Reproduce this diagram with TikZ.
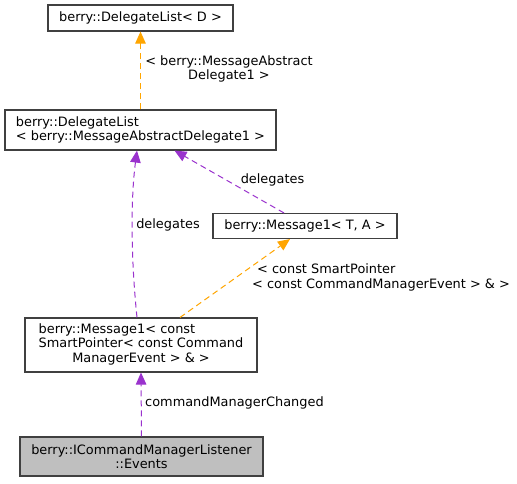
\documentclass[tikz,border=0pt]{standalone}
\usepackage{fontspec}
\setmainfont{DejaVu Sans}
\usetikzlibrary{arrows.meta}
\definecolor{edgeorange}{HTML}{FFA500}
\definecolor{edgepurple}{HTML}{9A32CD}
\definecolor{boxborder}{HTML}{404040}
\definecolor{boxgray}{HTML}{BFBFBF}
\begin{document}
\begin{tikzpicture}[x=1pt,y=-1pt,
  every node/.style={font=\fontsize{12.9}{14.5}\selectfont, inner sep=0pt},
  cls/.style={draw=boxborder, line width=1.1pt, fill=white, rectangle},
  lbl/.style={text=black},
  rel/.style={dash pattern=on 6pt off 4pt, line width=1pt},
  tmpl/.style={rel, draw=edgeorange, -{Triangle[length=12pt,width=10.5pt,fill=edgeorange]}},
  use/.style={rel, draw=edgepurple, -{Triangle[length=12pt,width=10.5pt,fill=edgepurple]}}]
\useasboundingbox (0,0) rectangle (517,483);
% classes
\node[cls, minimum width=185pt, minimum height=26pt] (b1) at (140.5,18) {berry::DelegateList< D >};
\node[cls, minimum width=271pt, minimum height=40pt, align=left] (b2) at (140.5,130)
  {berry::DelegateList\\< berry::MessageAbstractDelegate1 >};
\node[cls, minimum width=184pt, minimum height=25pt] (b3) at (305,226) {berry::Message1< T, A >};
\node[cls, minimum width=232pt, minimum height=54pt] (b4) at (141,345)
  {\begin{tabular}{@{}c@{}}\multicolumn{1}{@{}l@{}}{berry::Message1< const}\\SmartPointer< const Command\\ManagerEvent > \& >\end{tabular}};
\node[cls, fill=boxgray, minimum width=243pt, minimum height=39pt, align=center] (b5) at (141.5,456.5)
  {berry::ICommandManagerListener\\::Events};
% connectors
\draw[tmpl] (b2.north) -- (b1.south);
\draw[use] ([xshift=-21pt]b3.north) -- ([xshift=34pt]b2.south);
\draw[use] ([xshift=-4pt]b4.north) .. controls ([xshift=-10pt]b4.north |- 0,260) and ([xshift=-10pt]b2.south |- 0,200) .. ([xshift=-3.5pt]b2.south);
\draw[tmpl] ([xshift=39pt]b4.north) -- ([xshift=-15pt]b3.south);
\draw[use] (b5.north) -- (b4.south);
% labels
\node[lbl, align=center] (l1) at (229,69) {< berry::MessageAbstract\\Delegate1 >};
\node[lbl] (l2) at (272.5,180) {delegates};
\node[lbl] (l3) at (168,225) {delegates};
\node[lbl, align=left, anchor=west] (l4) at (252,277.5) {\hspace*{5pt}< const SmartPointer\\< const CommandManagerEvent > \& >};
\node[lbl, anchor=west] (l5) at (145,403) {commandManagerChanged};
\end{tikzpicture}
\end{document}
